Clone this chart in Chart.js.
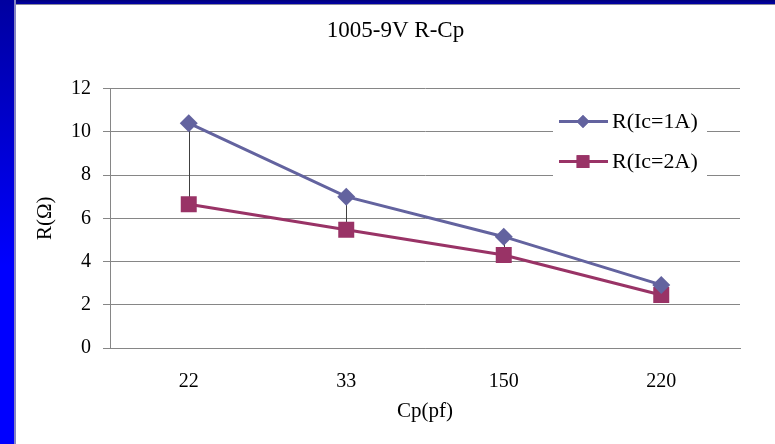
<!DOCTYPE html>
<html lang="en">
  <head>
    <meta charset="UTF-8" />
    <title>1005-9V R-Cp</title>
    <script src="https://cdn.jsdelivr.net/npm/chart.js"></script>
    <style>
      body {
        margin: 0;
        width: 775px;
        height: 444px;
        overflow: hidden;
        background: #fff;
        position: relative;
      }
      .top-bar {
        position: absolute;
        left: 0;
        top: 0;
        width: 775px;
        height: 4px;
        background: linear-gradient(to bottom, #00007a, #0000a6);
        border-bottom: 1px solid #8a8a9a;
      }
      .left-bar {
        position: absolute;
        left: 0;
        top: 0;
        width: 14px;
        height: 444px;
        background: linear-gradient(to bottom, #0000a0, #0000ff 60%);
        border-right: 2px solid #8484c4;
      }
      .canvas {
        position: absolute;
        left: 16px;
        top: 5px;
        width: 759px;
        height: 439px;
      }
    </style>
  </head>
  <body>
    <div class="top-bar"></div>
    <div class="left-bar"></div>
    <div class="canvas">
      <canvas id="myChart"></canvas>
    </div>
    <script>
      let capacitance = ["22", "33", "150", "220"];
      let seriesNames = ["R(Ic=1A)", "R(Ic=2A)"];
      let r1A = [10.4, 7.0, 5.15, 2.92];
      let r2A = [6.65, 5.47, 4.3, 2.45];
      let yTicks = [0, 2, 4, 6, 8, 10, 12];

      let colors = ["#63639f", "#993366"];
      let fontFamily = "'Liberation Serif', 'DejaVu Serif', serif";

      // vertical drop lines between the two series at every category
      const highLowLines = {
        id: "highLowLines",
        beforeDatasetsDraw(chart) {
          const a = chart.getDatasetMeta(0).data;
          const b = chart.getDatasetMeta(1).data;
          const ctx = chart.ctx;
          ctx.save();
          ctx.strokeStyle = "#404040";
          ctx.lineWidth = 1;
          for (let i = 0; i < a.length; i++) {
            const x = Math.round(a[i].x) + 0.5;
            ctx.beginPath();
            ctx.moveTo(x, a[i].y);
            ctx.lineTo(x, b[i].y);
            ctx.stroke();
          }
          ctx.restore();
        },
      };

      // legend sits inside the plot, top right, on a white box
      const innerLegend = {
        id: "innerLegend",
        afterDatasetsDraw(chart) {
          const ctx = chart.ctx;
          const area = chart.chartArea;
          const boxRight = area.right - 33;
          const boxLeft = boxRight - 154;
          const boxTop = area.top + 9;
          ctx.save();
          ctx.fillStyle = "#fff";
          ctx.fillRect(boxLeft, boxTop, 154, 86);
          chart.data.datasets.forEach((ds, i) => {
            const y = boxTop + 24 + i * 40;
            const x0 = boxLeft + 6;
            ctx.strokeStyle = ds.borderColor;
            ctx.lineWidth = 3;
            ctx.beginPath();
            ctx.moveTo(x0, y);
            ctx.lineTo(x0 + 49, y);
            ctx.stroke();
            ctx.fillStyle = ds.backgroundColor;
            Chart.helpers.drawPoint(
              ctx,
              { pointStyle: ds.pointStyle, radius: i === 0 ? 6.5 : 9, rotation: 0, borderWidth: 0 },
              x0 + 24,
              y
            );
            ctx.fill();
            ctx.fillStyle = "#000";
            ctx.font = "22px " + fontFamily;
            ctx.textAlign = "left";
            ctx.textBaseline = "middle";
            ctx.fillText(ds.label, x0 + 53, y + 1);
          });
          ctx.restore();
        },
      };

      const ctx = document.getElementById("myChart");

      new Chart(ctx, {
        type: "line",
        data: {
          labels: capacitance,
          datasets: [
            {
              label: seriesNames[0],
              data: r1A,
              borderColor: colors[0],
              backgroundColor: colors[0],
              borderWidth: 3,
              pointStyle: "rectRot",
              pointRadius: 9,
              pointBorderWidth: 0,
            },
            {
              label: seriesNames[1],
              data: r2A,
              borderColor: colors[1],
              backgroundColor: colors[1],
              borderWidth: 3,
              pointStyle: "rect",
              pointRadius: 11.3,
              pointBorderWidth: 0,
            },
          ],
        },
        options: {
          responsive: true,
          maintainAspectRatio: false,
          animation: false,
          events: [],
          layout: { padding: 0 },
          plugins: {
            legend: { display: false },
            tooltip: { enabled: false },
            title: {
              display: true,
              text: "1005-9V R-Cp",
              color: "#000",
              font: { family: fontFamily, size: 23, weight: "normal" },
              padding: { top: 12, bottom: 44 },
            },
          },
          scales: {
            x: {
              offset: true,
              grid: { display: false, drawTicks: false },
              border: { display: true, color: "#868686", width: 1 },
              ticks: {
                color: "#000",
                padding: 22,
                font: { family: fontFamily, size: 20 },
              },
              title: {
                display: true,
                text: "Cp(pf)",
                color: "#000",
                font: { family: fontFamily, size: 21 },
                padding: { top: 0, bottom: 20 },
              },
              afterFit(scale) {
                scale.height = 96;
              },
            },
            y: {
              min: 0,
              max: 12,
              afterBuildTicks(scale) {
                scale.ticks = yTicks.map((v) => ({ value: v }));
              },
              grid: { color: "#868686", lineWidth: 1, tickLength: 7 },
              border: { display: true, color: "#868686", width: 1 },
              ticks: {
                color: "#000",
                padding: 12,
                font: { family: fontFamily, size: 20 },
              },
              title: {
                display: true,
                text: "R(Ω)",
                color: "#000",
                font: { family: fontFamily, size: 21 },
                padding: { top: 17, bottom: 0 },
              },
              afterFit(scale) {
                scale.width = 94;
              },
            },
            // empty right margin, keeps the title centred on the whole canvas
            yRight: {
              position: "right",
              min: 0,
              max: 12,
              grid: { display: false, drawTicks: false },
              border: { display: false },
              ticks: { display: false },
              afterFit(scale) {
                scale.width = 35;
              },
            },
          },
        },
        plugins: [highLowLines, innerLegend],
      });
    </script>
  </body>
</html>
